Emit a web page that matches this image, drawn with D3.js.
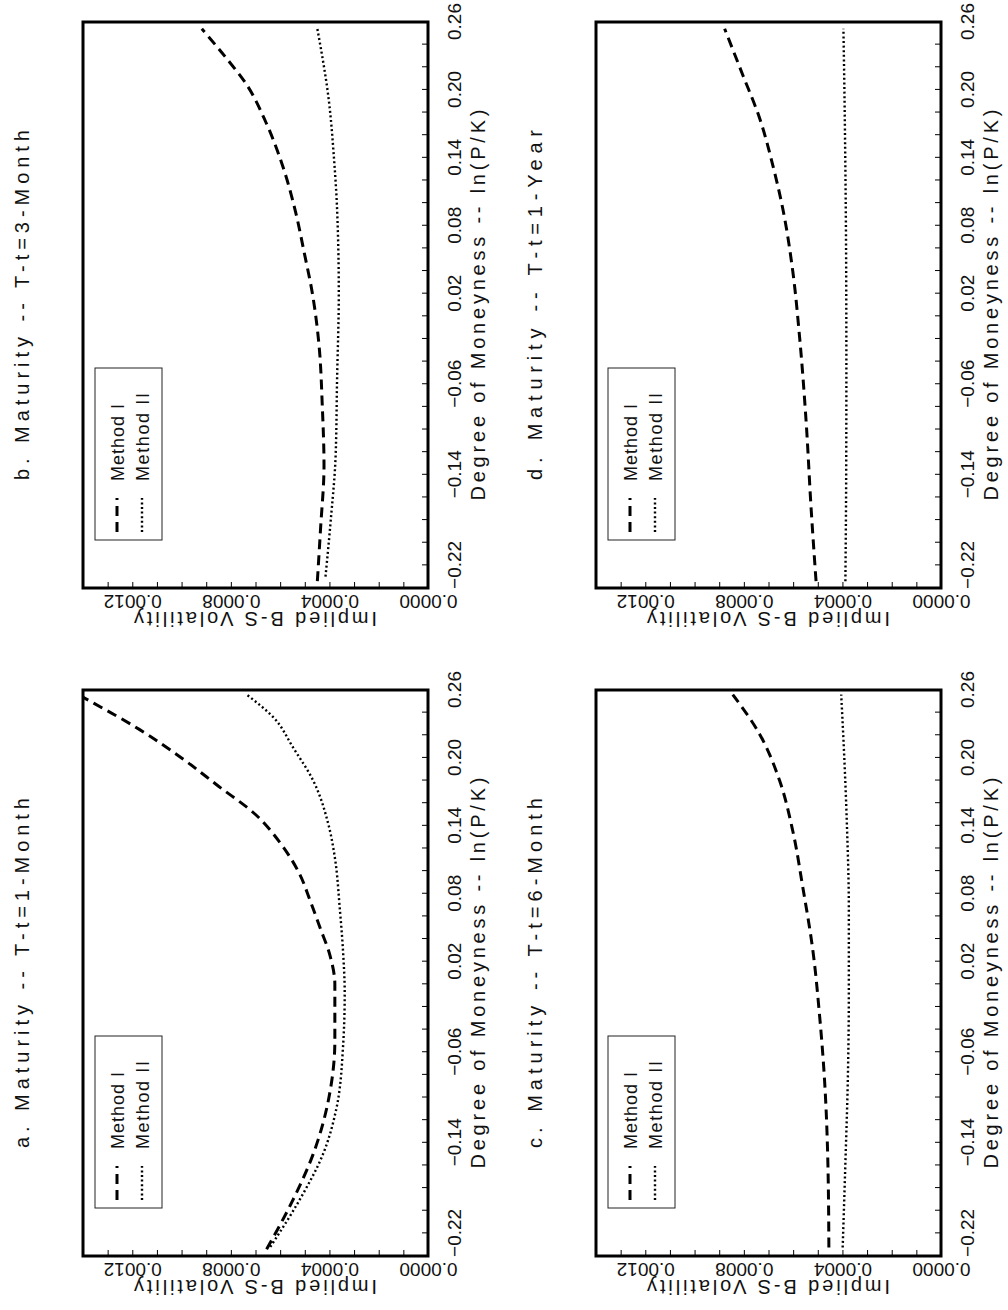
<!DOCTYPE html>
<html>
<head>
<meta charset="utf-8">
<script src="https://cdn.jsdelivr.net/npm/d3@7"></script>
<style>
  body { margin: 0; background: #fff; }
  text { font-family: "Liberation Sans", Arial, sans-serif; fill: #111; }
</style>
</head>
<body>
<svg id="chart"></svg>
<script>
// axis labels
const moneyLabels = [-0.22, -0.14, -0.06, 0.02, 0.08, 0.14, 0.20, 0.26];
const volLabels = [0, 0.0004, 0.0008, 0.0012];
const seriesNames = ["Method I", "Method II"];

// a. 1-month  [moneyness, implied vol]
const oneMonthI = [[-0.234, 0.000655], [-0.19, 0.000547], [-0.15, 0.000466], [-0.10, 0.000402],
  [-0.05, 0.000378], [0.00, 0.000378], [0.025, 0.000397], [0.05, 0.000438], [0.075, 0.00048],
  [0.097, 0.00052], [0.125, 0.0006], [0.15, 0.0007], [0.175, 0.00085], [0.20, 0.001],
  [0.225, 0.00117], [0.25, 0.00137], [0.256, 0.00142]];
const oneMonthII = [[-0.232, 0.00064], [-0.19, 0.00052], [-0.15, 0.000426], [-0.11, 0.000372],
  [-0.056, 0.000345], [-0.008, 0.000338], [0.03, 0.000345], [0.067, 0.000358], [0.112, 0.000378],
  [0.142, 0.000405], [0.18, 0.000466], [0.209, 0.000547], [0.236, 0.000628], [0.256, 0.000736]];

// b. 3-month
const threeMonthI = [[-0.234, 0.000449], [-0.1875, 0.000436], [-0.132, 0.000422], [-0.079, 0.000429],
  [-0.026, 0.000442], [0.02, 0.000469], [0.057, 0.000503], [0.091, 0.000536], [0.133, 0.00059],
  [0.171, 0.000657], [0.205, 0.000737], [0.228, 0.000818], [0.254, 0.000918]];
const threeMonthII = [[-0.23, 0.000416], [-0.181, 0.000395], [-0.124, 0.000375], [-0.056, 0.000369],
  [0.02, 0.000362], [0.095, 0.000369], [0.141, 0.000382], [0.19, 0.000402], [0.254, 0.000449]];

// c. 6-month
const sixMonthI = [[-0.2325, 0.000455], [-0.158, 0.000459], [-0.083, 0.000473], [-0.027, 0.000493],
  [0.03, 0.00052], [0.086, 0.000561], [0.135, 0.000601], [0.18, 0.000655], [0.221, 0.000736],
  [0.256, 0.000845]];
const sixMonthII = [[-0.2325, 0.000399], [-0.158, 0.000388], [-0.083, 0.000378], [-0.008, 0.000374],
  [0.067, 0.000374], [0.142, 0.000382], [0.198, 0.000392], [0.256, 0.000405]];

// d. 1-year
const oneYearI = [[-0.234, 0.000507], [-0.17, 0.000527], [-0.094, 0.000547], [-0.018, 0.000574],
  [0.039, 0.000601], [0.095, 0.000642], [0.133, 0.000682], [0.175, 0.000736], [0.213, 0.000804],
  [0.254, 0.000878]];
const oneYearII = [[-0.234, 0.000388], [-0.15, 0.000385], [-0.05, 0.000384], [0.05, 0.000385],
  [0.13, 0.000388], [0.2, 0.000392], [0.254, 0.000396]];

// the page is printed landscape and turned, so draw everything in a 1310x1008 frame and rotate it
const svg = d3.select("#chart").attr("width", 1008).attr("height", 1310);
const root = svg.append("g").attr("transform", "translate(0,1310) rotate(-90)");
const defs = svg.append("defs");

const boxW = 566, boxH = 345;
const panels = [
  { title: "a. Maturity -- T-t=1-Month", m1: oneMonthI, m2: oneMonthII, x0: 54, y0: 83 },
  { title: "b. Maturity -- T-t=3-Month", m1: threeMonthI, m2: threeMonthII, x0: 722, y0: 83 },
  { title: "c. Maturity -- T-t=6-Month", m1: sixMonthI, m2: sixMonthII, x0: 54, y0: 596 },
  { title: "d. Maturity -- T-t=1-Year", m1: oneYearI, m2: oneYearII, x0: 722, y0: 596 }
];

const moneyTicks = d3.range(0, 26).map(i => Math.round((-0.24 + 0.02 * i) * 100) / 100);
const volTicks = d3.range(0, 15).map(i => i / 10000);
const dashI = "10,6", dashII = "2,2.6";

panels.forEach((p, i) => {
  const g = root.append("g").attr("transform", `translate(${p.x0},${p.y0})`);
  const x = d3.scaleLinear().domain([-0.24, 0.26]).range([0, boxW]);
  const y = d3.scaleLinear().domain([0, 0.0014]).range([boxH, 0]);

  defs.append("clipPath").attr("id", "clip" + i)
    .append("rect").attr("width", boxW).attr("height", boxH);

  // x axis, ticks point inward
  const xAxis = g.append("g").attr("transform", `translate(0,${boxH})`)
    .call(d3.axisBottom(x).tickValues(moneyTicks).tickSizeInner(-6).tickSizeOuter(0)
      .tickFormat(d => moneyLabels.some(v => Math.abs(v - d) < 1e-9) ? d3.format(".2f")(d) : ""));
  xAxis.select(".domain").remove();
  xAxis.selectAll("text").attr("y", 33).attr("dy", 0)
    .style("font-size", "19px").style("font-family", null);

  const yAxis = g.append("g")
    .call(d3.axisLeft(y).tickValues(volTicks).tickSizeInner(-6).tickSizeOuter(0)
      .tickFormat(d => volLabels.some(v => Math.abs(v - d) < 1e-12) ? d3.format(".4f")(d) : ""));
  yAxis.select(".domain").remove();
  yAxis.selectAll("text").attr("x", 0).attr("y", 0).attr("dy", 0)
    .attr("text-anchor", "middle").attr("transform", "translate(-7,0) rotate(-90)")
    .style("font-size", "19px").style("font-family", null);
  g.selectAll(".tick line").attr("stroke", "#000").attr("stroke-width", 1);

  // curves
  const line = d3.line().x(d => x(d[0])).y(d => y(d[1])).curve(d3.curveMonotoneX);
  const plot = g.append("g").attr("clip-path", `url(#clip${i})`);
  plot.append("path").datum(p.m1).attr("d", line).attr("fill", "none")
    .attr("stroke", "#000").attr("stroke-width", 3).attr("stroke-dasharray", dashI);
  plot.append("path").datum(p.m2).attr("d", line).attr("fill", "none")
    .attr("stroke", "#000").attr("stroke-width", 2.4).attr("stroke-dasharray", dashII);

  // frame
  g.append("rect").attr("width", boxW).attr("height", boxH)
    .attr("fill", "none").attr("stroke", "#000").attr("stroke-width", 3);

  // legend
  const lg = g.append("g").attr("transform", "translate(48,12)");
  lg.append("rect").attr("width", 172).attr("height", 67)
    .attr("fill", "#fff").attr("stroke", "#222").attr("stroke-width", 1);
  seriesNames.forEach((name, k) => {
    const ly = 22 + k * 25;
    lg.append("line").attr("x1", 8).attr("x2", 42).attr("y1", ly).attr("y2", ly)
      .attr("stroke", "#000").attr("stroke-width", k ? 2.4 : 3)
      .attr("stroke-dasharray", k ? dashII : dashI);
    lg.append("text").attr("x", 59).attr("y", ly + 7)
      .attr("textLength", k ? 88 : 77).attr("lengthAdjust", "spacing")
      .style("font-size", "18px").text(name);
  });

  // titles
  g.append("text").attr("x", boxW / 2).attr("y", -54).attr("text-anchor", "middle")
    .attr("textLength", 350).attr("lengthAdjust", "spacing")
    .style("font-size", "20px").text(p.title);
  g.append("text").attr("x", boxW / 2).attr("y", boxH + 57).attr("text-anchor", "middle")
    .attr("textLength", 391).attr("lengthAdjust", "spacing")
    .style("font-size", "20px").text("Degree of Moneyness -- ln(P/K)");
  g.append("text").attr("transform", `translate(-24,${boxH / 2}) rotate(-90)`)
    .attr("text-anchor", "middle").attr("textLength", 243).attr("lengthAdjust", "spacing")
    .style("font-size", "20px").text("Implied B-S Volatility");
});
</script>
</body>
</html>
